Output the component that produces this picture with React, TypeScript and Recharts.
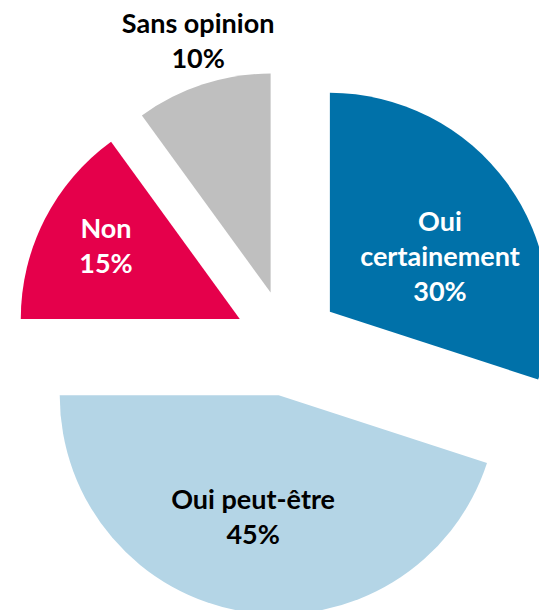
import React from 'react';
import { PieChart, Pie, Cell, Sector } from 'recharts';

const categories = ['Oui certainement', 'Oui peut-être', 'Non', 'Sans opinion'];
const values = [30, 45, 15, 10];
const labelLines = [['Oui', 'certainement'], ['Oui peut-être'], ['Non'], ['Sans opinion']];

const COLORS = ['#0071A9', '#B4D5E6', '#E5004B', '#BFBFBF'];
const TEXT_COLORS = ['#ffffff', '#000000', '#ffffff', '#000000'];
// label placement, measured from each exploded slice apex
const LABEL_RADIUS = [124, 123, 153, 263];
const LABEL_SHIFT = [-8.6, -3, -2, -2];

const RADIAN = Math.PI / 180;
const EXPLODE = 53;
const FONT = 'Lato, "Open Sans", sans-serif';

const data = categories.map((name, i) => ({ name, value: values[i] }));

const offset = (midAngle: number, dist: number) => ({
  dx: dist * Math.cos(-midAngle * RADIAN),
  dy: dist * Math.sin(-midAngle * RADIAN),
});

const renderSlice = (props: any) => {
  const { cx, cy, midAngle, innerRadius, outerRadius, startAngle, endAngle, fill } = props;
  const { dx, dy } = offset(midAngle, EXPLODE);
  return (
    <Sector
      cx={cx + dx}
      cy={cy + dy}
      innerRadius={innerRadius}
      outerRadius={outerRadius}
      startAngle={startAngle}
      endAngle={endAngle}
      fill={fill}
      stroke="none"
    />
  );
};

const renderLabel = (props: any) => {
  const { cx, cy, midAngle, index } = props;
  const apex = offset(midAngle, EXPLODE);
  const pos = offset(midAngle + LABEL_SHIFT[index], LABEL_RADIUS[index]);
  const x = cx + apex.dx + pos.dx;
  const y = cy + apex.dy + pos.dy;
  const lines = [...labelLines[index], `${values[index]}%`];
  const lh = 35;
  return (
    <text
      key={`lbl-${index}`}
      x={x}
      y={y}
      textAnchor="middle"
      dominantBaseline="central"
      fill={TEXT_COLORS[index]}
      fontFamily={FONT}
      fontWeight="bold"
      fontSize={27}
    >
      {lines.map((line, i) => (
        <tspan key={i} x={x} y={y + (i - (lines.length - 1) / 2) * lh}>
          {line}
        </tspan>
      ))}
    </text>
  );
};

export default function App() {
  return (
    <div style={{ position: 'absolute', left: 0, top: 0, width: 539, height: 610, background: '#fff' }}>
      <PieChart width={539} height={610} margin={{ top: 0, right: 0, bottom: 0, left: 0 }}>
        <Pie
          data={data}
          dataKey="value"
          nameKey="name"
          cx={287}
          cy={343}
          outerRadius={219}
          startAngle={90}
          endAngle={-270}
          stroke="none"
          shape={renderSlice}
          label={renderLabel}
          labelLine={false}
          isAnimationActive={false}
        >
          {data.map((d, i) => (
            <Cell key={d.name} fill={COLORS[i]} />
          ))}
        </Pie>
      </PieChart>
    </div>
  );
}
